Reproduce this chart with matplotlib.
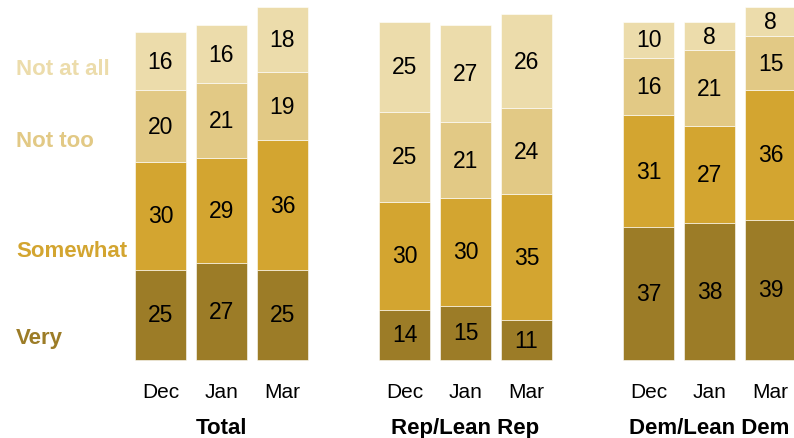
import matplotlib
matplotlib.use("Agg")
import matplotlib.pyplot as plt

plt.rcParams['font.family'] = ['Liberation Sans', 'DejaVu Sans']

## DATA
months = ["Dec", "Jan", "Mar"]
groups = ["Total", "Rep/Lean Rep", "Dem/Lean Dem"]
categories = ["Very", "Somewhat", "Not too", "Not at all"]

very = [25, 27, 25, 14, 15, 11, 37, 38, 39]
somewhat = [30, 29, 36, 30, 30, 35, 31, 27, 36]
not_too = [20, 21, 19, 25, 21, 24, 16, 21, 15]
not_at_all = [16, 16, 18, 25, 27, 26, 10, 8, 8]

colors = ["#9c7c27", "#d3a530", "#e2c985", "#ecdcab"]

## FIGURE
fig = plt.figure(figsize=(7.94, 4.39), dpi=100)
ax = fig.add_axes([0, 0, 1, 1])

# x positions: 3 bars per group, one empty slot between groups
xpos = []
for g in range(len(groups)):
    for m in range(len(months)):
        xpos.append(g * 4 + m)

series = [very, somewhat, not_too, not_at_all]
bottom = [0] * len(xpos)
for s, vals in enumerate(series):
    ax.bar(xpos, vals, width=0.84, bottom=bottom, color=colors[s],
           edgecolor="white", linewidth=0.4)
    for i, v in enumerate(vals):
        ax.text(xpos[i], bottom[i] + v / 2, str(v), ha="center", va="center",
                fontsize=16.5, color="black")
    bottom = [b + v for b, v in zip(bottom, vals)]

# month labels
for i, x in enumerate(xpos):
    ax.text(x, -10.3, months[i % 3], ha="center", va="baseline",
            fontsize=15, color="black")

# group titles
for g, name in enumerate(groups):
    ax.text(g * 4 + 1, -20.4, name, ha="center", va="baseline",
            fontsize=16, fontweight="bold", color="black")

# category labels on the left
label_y = [4.7, 28.9, 59.4, 79.4]
for c, name in enumerate(categories):
    ax.text(-2.37, label_y[c], name, ha="left", va="baseline",
            fontsize=16, fontweight="bold", color=colors[c])

ax.set_xlim(-2.631, 10.385)
ax.set_ylim(-21.67, 100.28)
ax.axis("off")

fig.savefig("out.png", dpi=100)
